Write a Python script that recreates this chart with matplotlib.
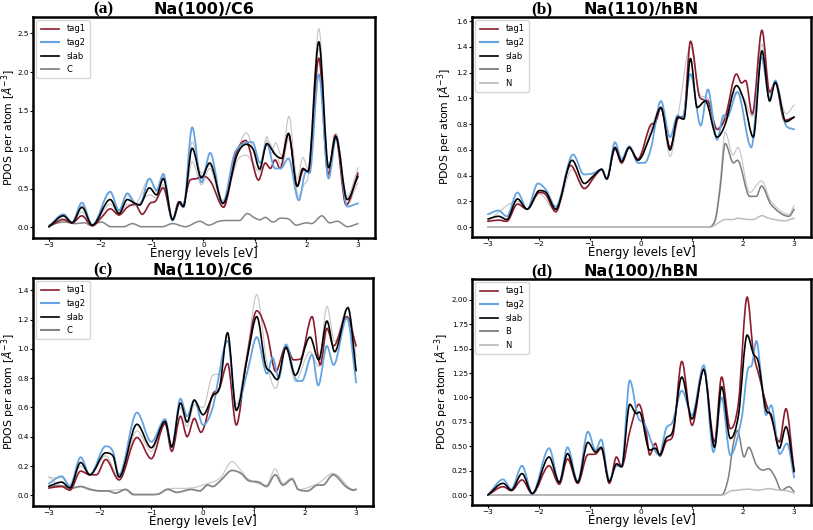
import numpy as np
import matplotlib
matplotlib.use("Agg")
import matplotlib.pyplot as plt
from matplotlib.path import Path
from matplotlib.patches import PathPatch

# ---- read-off turning points (energy [eV], PDOS) ----
# (a) Na(100)/C6
a_tag1 = [(-3.0, 0.01), (-2.72, 0.10), (-2.55, 0.06), (-2.36, 0.15), (-2.16, 0.02), (-1.98, 0.13),
          (-1.81, 0.24), (-1.64, 0.16), (-1.48, 0.26), (-1.33, 0.30), (-1.19, 0.17), (-1.04, 0.31),
          (-0.93, 0.34), (-0.78, 0.51), (-0.60, 0.10), (-0.48, 0.33), (-0.41, 0.27), (-0.26, 0.61),
          (-0.13, 0.63), (0.0, 0.66), (0.15, 0.58), (0.39, 0.26), (0.62, 0.93), (0.82, 1.12),
          (1.07, 0.61), (1.2, 0.83), (1.3, 0.76), (1.39, 0.87), (1.49, 0.76), (1.65, 1.21),
          (1.82, 0.53), (1.94, 0.74), (2.04, 0.72), (2.24, 2.18), (2.42, 0.68), (2.56, 1.19),
          (2.77, 0.29), (3.0, 0.70)]
a_tag2 = [(-3.0, 0.01), (-2.72, 0.17), (-2.55, 0.07), (-2.36, 0.32), (-2.16, 0.03), (-1.81, 0.46),
          (-1.64, 0.22), (-1.48, 0.44), (-1.33, 0.31), (-1.24, 0.29), (-1.05, 0.63), (-0.91, 0.48),
          (-0.78, 0.69), (-0.60, 0.09), (-0.46, 0.33), (-0.39, 0.26), (-0.22, 1.29), (-0.04, 0.58),
          (0.13, 0.96), (0.37, 0.31), (0.62, 0.98), (0.95, 1.10), (1.10, 0.83), (1.23, 1.07),
          (1.39, 0.76), (1.50, 0.76), (1.65, 0.89), (1.85, 0.35), (1.99, 0.72), (2.06, 0.70),
          (2.24, 1.97), (2.43, 0.63), (2.58, 1.17), (2.79, 0.27), (3.0, 0.31)]
a_slab = [(-3.0, 0.01), (-2.72, 0.15), (-2.55, 0.06), (-2.36, 0.26), (-2.16, 0.03), (-1.81, 0.36),
          (-1.64, 0.18), (-1.48, 0.36), (-1.33, 0.31), (-1.24, 0.29), (-1.05, 0.51), (-0.91, 0.42),
          (-0.78, 0.63), (-0.60, 0.10), (-0.46, 0.33), (-0.39, 0.27), (-0.22, 1.02), (-0.04, 0.64),
          (0.12, 0.83), (0.38, 0.31), (0.65, 0.93), (0.83, 1.07), (0.97, 1.0), (1.09, 0.75),
          (1.23, 1.08), (1.39, 0.94), (1.52, 0.89), (1.65, 1.21), (1.82, 0.53), (1.93, 0.76),
          (2.03, 0.72), (2.24, 2.39), (2.43, 0.77), (2.57, 1.17), (2.79, 0.36), (3.0, 0.66)]
a_c = [(-3.0, 0.03), (-2.7, 0.07), (-2.5, 0.05), (-2.3, 0.06), (-2.2, 0.03), (-1.98, 0.07),
       (-1.8, 0.01), (-1.55, 0.01), (-1.38, 0.05), (-1.2, 0.01), (-0.8, 0.01), (-0.6, 0.05),
       (-0.35, 0.01), (-0.07, 0.08), (0.1, 0.03), (0.3, 0.08), (0.5, 0.09), (0.7, 0.09),
       (0.85, 0.18), (1.0, 0.12), (1.1, 0.10), (1.2, 0.13), (1.35, 0.07), (1.5, 0.12),
       (1.65, 0.11), (1.8, 0.03), (2.0, 0.06), (2.1, 0.05), (2.3, 0.15), (2.45, 0.06),
       (2.6, 0.08), (2.8, 0.01), (3.0, 0.05)]
a_others = [
    [(-3.0, 0.03), (-2.72, 0.15), (-2.55, 0.07), (-2.36, 0.28), (-2.16, 0.03), (-1.81, 0.45),
     (-1.64, 0.21), (-1.48, 0.42), (-1.33, 0.30), (-1.05, 0.63), (-0.91, 0.46), (-0.78, 0.66),
     (-0.60, 0.10), (-0.46, 0.31), (-0.39, 0.27), (-0.22, 1.10), (-0.04, 0.70), (0.12, 0.80),
     (0.38, 0.35), (0.65, 0.95), (0.83, 1.22), (1.09, 0.78), (1.23, 1.17), (1.32, 0.95),
     (1.40, 1.09), (1.52, 0.92), (1.66, 1.43), (1.82, 0.62), (1.93, 0.90), (2.03, 0.75),
     (2.24, 2.56), (2.43, 0.80), (2.57, 1.21), (2.79, 0.40), (3.0, 0.77)],
    [(-3.0, 0.02), (-2.72, 0.12), (-2.55, 0.06), (-2.36, 0.20), (-2.16, 0.03), (-1.81, 0.30),
     (-1.64, 0.17), (-1.48, 0.30), (-1.33, 0.28), (-1.05, 0.42), (-0.91, 0.38), (-0.78, 0.55),
     (-0.60, 0.10), (-0.46, 0.30), (-0.39, 0.26), (-0.22, 0.85), (-0.04, 0.55), (0.12, 0.76),
     (0.38, 0.28), (0.65, 0.85), (0.83, 0.93), (1.09, 0.72), (1.23, 1.12), (1.40, 0.95),
     (1.52, 0.80), (1.66, 1.15), (1.85, 0.40), (1.95, 0.55), (2.03, 0.65), (2.24, 2.30),
     (2.43, 0.70), (2.57, 1.15), (2.79, 0.30), (3.0, 0.58)],
]

# (b) Na(110)/hBN
b_tag1 = [(-3.0, 0.046), (-2.79, 0.055), (-2.63, 0.046), (-2.42, 0.18), (-2.23, 0.14), (-1.99, 0.27),
          (-1.86, 0.25), (-1.67, 0.12), (-1.38, 0.48), (-1.11, 0.30), (-0.90, 0.40), (-0.77, 0.45),
          (-0.67, 0.375), (-0.51, 0.61), (-0.38, 0.50), (-0.23, 0.62), (-0.06, 0.53), (0.20, 0.80),
          (0.28, 0.81), (0.39, 0.93), (0.57, 0.62), (0.72, 0.84), (0.84, 0.87), (0.97, 1.445),
          (1.15, 1.01), (1.23, 0.99), (1.31, 0.98), (1.49, 0.76), (1.65, 0.85), (1.87, 1.19),
          (1.97, 1.12), (2.05, 1.14), (2.18, 0.88), (2.37, 1.53), (2.52, 1.05), (2.63, 1.125),
          (2.81, 0.83), (3.0, 0.855)]
b_tag2 = [(-3.0, 0.10), (-2.79, 0.13), (-2.63, 0.085), (-2.42, 0.27), (-2.23, 0.14), (-2.02, 0.34),
          (-1.86, 0.29), (-1.67, 0.16), (-1.33, 0.565), (-1.12, 0.41), (-0.93, 0.42), (-0.77, 0.45),
          (-0.67, 0.375), (-0.51, 0.66), (-0.38, 0.53), (-0.23, 0.63), (-0.06, 0.50), (0.07, 0.50),
          (0.20, 0.62), (0.39, 0.98), (0.57, 0.70), (0.72, 0.87), (0.81, 0.84), (0.97, 1.19),
          (1.17, 0.79), (1.31, 1.07), (1.49, 0.68), (1.62, 0.87), (1.68, 0.85), (1.89, 1.05),
          (2.16, 0.62), (2.36, 1.32), (2.52, 1.0), (2.63, 1.14), (2.84, 0.79), (3.0, 0.76)]
b_slab = [(-3.0, 0.064), (-2.79, 0.085), (-2.63, 0.06), (-2.42, 0.22), (-2.23, 0.14), (-1.99, 0.285),
          (-1.86, 0.27), (-1.67, 0.14), (-1.35, 0.52), (-1.11, 0.34), (-0.93, 0.40), (-0.77, 0.45),
          (-0.67, 0.375), (-0.51, 0.62), (-0.38, 0.51), (-0.23, 0.62), (-0.06, 0.52), (0.20, 0.73),
          (0.39, 0.93), (0.57, 0.60), (0.72, 0.855), (0.84, 0.84), (0.97, 1.31), (1.10, 0.93),
          (1.26, 0.98), (1.49, 0.70), (1.65, 0.80), (1.87, 1.10), (2.02, 0.98), (2.20, 0.70),
          (2.37, 1.37), (2.52, 0.98), (2.63, 1.125), (2.84, 0.82), (3.0, 0.855)]
b_b = [(-3.0, 0.0), (1.3, 0.0), (1.45, 0.05), (1.55, 0.3), (1.65, 0.65), (1.81, 0.50), (1.89, 0.52),
       (2.13, 0.24), (2.26, 0.24), (2.36, 0.32), (2.55, 0.175), (2.9, 0.085), (3.0, 0.14)]
b_n = [(-3.0, 0.0), (1.35, 0.0), (1.5, 0.03), (1.65, 0.06), (1.8, 0.06), (1.9, 0.07), (2.1, 0.06),
       (2.2, 0.06), (2.37, 0.09), (2.5, 0.07), (2.8, 0.05), (3.0, 0.07)]
b_others = [
    [(-3.0, 0.0), (1.3, 0.0), (1.45, 0.06), (1.55, 0.35), (1.65, 0.74), (1.8, 0.56), (1.9, 0.62),
     (2.13, 0.27), (2.36, 0.36), (2.55, 0.20), (2.9, 0.10), (3.0, 0.17)],
    [(-3.0, 0.05), (-2.42, 0.20), (-2.23, 0.14), (-1.99, 0.26), (-1.67, 0.13), (-1.35, 0.45),
     (-1.11, 0.31), (-0.77, 0.44), (-0.67, 0.37), (-0.51, 0.60), (-0.38, 0.49), (-0.23, 0.61),
     (-0.06, 0.53), (0.39, 0.92), (0.57, 0.55), (0.72, 0.85), (0.97, 1.40), (1.15, 1.03),
     (1.31, 1.0), (1.49, 0.77), (1.87, 1.05), (2.02, 1.0), (2.18, 0.86), (2.37, 1.42),
     (2.52, 1.03), (2.63, 1.13), (2.84, 0.88), (3.0, 0.95)],
]

# (c) Na(110)/C6
c_tag1 = [(-3.0, 0.05), (-2.75, 0.06), (-2.59, 0.035), (-2.38, 0.165), (-2.2, 0.14), (-2.07, 0.14),
          (-1.89, 0.245), (-1.63, 0.105), (-1.28, 0.395), (-1.0, 0.25), (-0.73, 0.49), (-0.60, 0.30),
          (-0.43, 0.54), (-0.30, 0.40), (-0.16, 0.525), (-0.03, 0.43), (0.2, 0.69), (0.33, 0.73),
          (0.49, 0.90), (0.66, 0.48), (0.85, 0.90), (1.06, 1.26), (1.26, 1.11), (1.43, 0.845),
          (1.63, 1.02), (1.78, 0.925), (1.91, 0.93), (2.14, 1.22), (2.3, 0.89), (2.43, 1.14),
          (2.56, 1.02), (2.82, 1.22), (3.0, 1.02)]
c_tag2 = [(-3.0, 0.08), (-2.75, 0.13), (-2.59, 0.064), (-2.38, 0.26), (-2.2, 0.14), (-1.89, 0.335),
          (-1.75, 0.30), (-1.63, 0.14), (-1.28, 0.565), (-1.0, 0.365), (-0.73, 0.52), (-0.60, 0.33),
          (-0.43, 0.66), (-0.30, 0.54), (-0.16, 0.65), (0.01, 0.48), (0.2, 0.60), (0.49, 1.055),
          (0.66, 0.59), (0.88, 0.85), (1.06, 1.08), (1.26, 0.83), (1.37, 0.94), (1.49, 0.80),
          (1.63, 1.03), (1.85, 0.78), (1.94, 0.78), (2.14, 0.96), (2.26, 0.75), (2.43, 1.02),
          (2.56, 0.89), (2.82, 1.21), (3.0, 0.77)]
c_slab = [(-3.0, 0.062), (-2.75, 0.09), (-2.59, 0.05), (-2.38, 0.224), (-2.2, 0.14), (-1.89, 0.29),
          (-1.75, 0.27), (-1.63, 0.125), (-1.28, 0.485), (-1.0, 0.325), (-0.73, 0.505), (-0.60, 0.33),
          (-0.43, 0.63), (-0.30, 0.50), (-0.16, 0.65), (0.01, 0.55), (0.2, 0.68), (0.33, 0.73),
          (0.49, 1.11), (0.66, 0.58), (0.88, 0.95), (1.06, 1.22), (1.23, 0.89), (1.33, 0.845),
          (1.46, 0.79), (1.63, 1.01), (1.81, 0.82), (2.1, 1.08), (2.27, 0.925), (2.43, 1.19),
          (2.58, 0.98), (2.84, 1.28), (3.0, 0.85)]
c_c = [(-3.0, 0.05), (-2.85, 0.065), (-2.7, 0.06), (-2.55, 0.05), (-2.38, 0.06), (-2.2, 0.04),
       (-2.0, 0.03), (-1.85, 0.03), (-1.7, 0.015), (-1.5, 0.04), (-1.35, 0.005), (-1.0, 0.005),
       (-0.85, 0.01), (-0.68, 0.04), (-0.5, 0.02), (-0.22, 0.04), (-0.05, 0.03), (0.1, 0.07),
       (0.2, 0.06), (0.35, 0.10), (0.58, 0.17), (0.75, 0.15), (0.9, 0.10), (1.1, 0.09),
       (1.25, 0.06), (1.42, 0.14), (1.57, 0.07), (1.75, 0.11), (1.87, 0.04), (2.05, 0.03),
       (2.25, 0.07), (2.35, 0.07), (2.55, 0.14), (2.8, 0.06), (2.95, 0.035), (3.0, 0.04)]
c_others = [
    [(-3.0, 0.12), (-2.75, 0.12), (-2.59, 0.06), (-2.38, 0.20), (-2.2, 0.14), (-1.89, 0.27),
     (-1.63, 0.12), (-1.28, 0.44), (-1.0, 0.30), (-0.73, 0.50), (-0.60, 0.33), (-0.43, 0.60),
     (-0.30, 0.47), (-0.16, 0.62), (0.01, 0.60), (0.2, 0.82), (0.33, 0.83), (0.49, 1.08),
     (0.66, 0.62), (0.88, 1.0), (1.06, 1.37), (1.26, 0.90), (1.43, 0.73), (1.63, 1.0),
     (1.81, 0.78), (2.1, 0.98), (2.27, 0.88), (2.43, 1.29), (2.58, 1.05), (2.84, 1.29),
     (3.0, 0.95)],
    [(-3.0, 0.13), (-2.85, 0.08), (-2.6, 0.05), (-2.38, 0.06), (-2.0, 0.03), (-1.5, 0.04),
     (-1.3, 0.005), (-0.9, 0.005), (-0.68, 0.045), (-0.22, 0.05), (0.1, 0.08), (0.35, 0.12),
     (0.58, 0.23), (0.75, 0.17), (0.9, 0.11), (1.25, 0.07), (1.42, 0.18), (1.57, 0.08),
     (1.75, 0.12), (1.87, 0.04), (2.25, 0.08), (2.55, 0.15), (2.95, 0.04), (3.0, 0.045)],
]

# (d) Na(100)/hBN
d_tag1 = [(-3.0, 0.0), (-2.70, 0.085), (-2.54, 0.045), (-2.33, 0.155), (-2.13, 0.015), (-1.80, 0.30),
          (-1.60, 0.11), (-1.44, 0.37), (-1.24, 0.12), (-1.04, 0.415), (-0.89, 0.42), (-0.78, 0.48),
          (-0.62, 0.12), (-0.48, 0.39), (-0.38, 0.29), (-0.22, 0.65), (-0.04, 0.93), (0.1, 0.65),
          (0.17, 0.41), (0.28, 0.53), (0.37, 0.40), (0.49, 0.545), (0.62, 0.60), (0.80, 1.37),
          (1.0, 0.715), (1.23, 1.295), (1.44, 0.545), (1.58, 1.21), (1.75, 0.68), (1.91, 0.95),
          (2.08, 2.03), (2.2, 1.47), (2.33, 1.19), (2.45, 0.94), (2.55, 0.80), (2.71, 0.545),
          (2.84, 0.885), (3.0, 0.24)]
d_tag2 = [(-3.0, 0.0), (-2.70, 0.16), (-2.54, 0.06), (-2.33, 0.30), (-2.13, 0.017), (-1.80, 0.48),
          (-1.60, 0.13), (-1.44, 0.49), (-1.24, 0.14), (-1.04, 0.65), (-0.89, 0.46), (-0.78, 0.57),
          (-0.62, 0.15), (-0.48, 0.30), (-0.38, 0.29), (-0.22, 1.175), (-0.06, 0.80), (0.07, 0.73),
          (0.26, 0.47), (0.36, 0.41), (0.49, 0.68), (0.62, 0.75), (0.80, 1.07), (1.0, 0.82),
          (1.23, 1.33), (1.42, 0.44), (1.58, 1.0), (1.75, 0.41), (1.97, 0.78), (2.1, 1.30),
          (2.17, 1.33), (2.26, 1.58), (2.36, 1.19), (2.45, 0.82), (2.55, 0.92), (2.72, 0.42),
          (2.86, 0.53), (3.0, 0.18)]
d_slab = [(-3.0, 0.0), (-2.70, 0.12), (-2.54, 0.05), (-2.33, 0.22), (-2.13, 0.015), (-1.80, 0.39),
          (-1.60, 0.13), (-1.44, 0.425), (-1.24, 0.13), (-1.04, 0.54), (-0.89, 0.44), (-0.78, 0.49),
          (-0.62, 0.14), (-0.48, 0.32), (-0.38, 0.29), (-0.22, 0.93), (-0.09, 0.835), (-0.03, 0.85),
          (0.17, 0.46), (0.28, 0.48), (0.37, 0.41), (0.49, 0.58), (0.62, 0.65), (0.80, 1.21),
          (1.0, 0.78), (1.23, 1.285), (1.44, 0.49), (1.58, 1.11), (1.75, 0.58), (1.91, 0.82),
          (2.08, 1.64), (2.2, 1.45), (2.3, 1.36), (2.45, 0.87), (2.55, 0.82), (2.71, 0.48),
          (2.84, 0.70), (3.0, 0.24)]
d_b = [(-3.0, 0.0), (1.55, 0.0), (1.62, 0.02), (1.72, 0.2), (1.8, 0.5), (1.89, 0.66), (2.02, 0.39),
       (2.11, 0.49), (2.26, 0.31), (2.39, 0.255), (2.5, 0.27), (2.62, 0.19), (2.75, 0.05),
       (2.9, 0.085), (3.0, 0.035)]
d_n = [(-3.0, 0.0), (1.6, 0.0), (1.75, 0.04), (1.9, 0.05), (2.1, 0.06), (2.3, 0.05), (2.5, 0.065),
       (2.7, 0.05), (2.85, 0.045), (3.0, 0.02)]
d_others = []

titles = ["Na(100)/C6", "Na(110)/hBN", "Na(110)/C6", "Na(100)/hBN"]
letters = ["(a)", "(b)", "(c)", "(d)"]
ylims = [(-0.135, 2.71), (-0.075, 1.633), (-0.073, 1.484), (-0.102, 2.215)]
yticks = [np.arange(0, 2.51, 0.5), np.arange(0, 1.61, 0.2), np.arange(0, 1.41, 0.2), np.arange(0, 2.01, 0.25)]
ytick_fmt = ["%.1f", "%.1f", "%.1f", "%.2f"]

RED = "#8c1c2e"
BLUE = "#65a4e3"


def smooth_line(ax, pts, **kw):
    # draw the read points as a smooth (cubic Hermite style) curve
    e = np.array([p[0] for p in pts])
    v = np.array([p[1] for p in pts])
    n = len(e)
    d = np.diff(v) / np.diff(e)
    m = np.zeros(n)
    for i in range(1, n - 1):
        if d[i - 1] * d[i] > 0:
            s = (v[i + 1] - v[i - 1]) / (e[i + 1] - e[i - 1])
            m[i] = np.sign(s) * min(abs(s), 3 * abs(d[i - 1]), 3 * abs(d[i]))
    m[0] = d[0]
    m[-1] = d[-1]
    verts = [(e[0], v[0])]
    codes = [Path.MOVETO]
    for i in range(n - 1):
        h = e[i + 1] - e[i]
        verts += [(e[i] + h / 3, v[i] + m[i] * h / 3),
                  (e[i + 1] - h / 3, v[i + 1] - m[i + 1] * h / 3),
                  (e[i + 1], v[i + 1])]
        codes += [Path.CURVE4] * 3
    ax.add_patch(PathPatch(Path(verts, codes), fill=False, joinstyle="round", capstyle="round", **kw))


panels = [
    (a_tag1, a_tag2, a_slab, [("C", a_c, "#858585", 1.1)], a_others),
    (b_tag1, b_tag2, b_slab, [("B", b_b, "#7d7d7d", 1.1), ("N", b_n, "#bdbdbd", 1.1)], b_others),
    (c_tag1, c_tag2, c_slab, [("C", c_c, "#858585", 1.3)], c_others),
    (d_tag1, d_tag2, d_slab, [("B", d_b, "#7d7d7d", 1.1), ("N", d_n, "#bdbdbd", 1.1)], d_others),
]

positions = [
    [0.0406, 0.551, 0.4206, 0.417],
    [0.5806, 0.553, 0.4169, 0.415],
    [0.0406, 0.0453, 0.4182, 0.4302],
    [0.5806, 0.0472, 0.4169, 0.4264],
]
ylabel_gap = [15.0, 18.5, 15.0, 21.0]  # px from the left spine

fig = plt.figure(figsize=(8.13, 5.30), dpi=100)

for k, (tag1, tag2, slab, species, others) in enumerate(panels):
    ax = fig.add_axes(positions[k])
    for o in others:
        smooth_line(ax, o, color="#c4c4c4", lw=0.8, zorder=1)
    for name, pts, col, lw in species:
        smooth_line(ax, pts, color=col, lw=lw, zorder=2)
    smooth_line(ax, tag1, color=RED, lw=1.2, zorder=3)
    smooth_line(ax, tag2, color=BLUE, lw=1.3, zorder=3)
    smooth_line(ax, slab, color="black", lw=1.2, zorder=4)

    # legend proxies
    ax.plot([], [], color=RED, lw=1.2, label="tag1")
    ax.plot([], [], color=BLUE, lw=1.5, label="tag2")
    ax.plot([], [], color="black", lw=1.2, label="slab")
    for name, pts, col, lw in species:
        ax.plot([], [], color=col, lw=lw + 0.2, label=name)
    ax.legend(loc="upper left", fontsize=6, handlelength=2.2, borderpad=0.5,
              labelspacing=0.55, borderaxespad=0.4, handletextpad=0.9)

    ax.set_xlim(-3.31, 3.33)
    ax.set_ylim(*ylims[k])
    ax.set_xticks(np.arange(-3, 4, 1))
    ax.set_yticks(yticks[k])
    ax.set_yticklabels([ytick_fmt[k] % t for t in yticks[k]])
    ax.tick_params(labelsize=5.2, length=2.2, width=0.8, pad=0.8)
    for sp in ax.spines.values():
        sp.set_linewidth(1.8)

    ax.set_xlabel("Energy levels [eV]", fontsize=8.5, labelpad=-0.5)
    ax.set_ylabel(r"PDOS per atom [$\AA^{-3}$]", fontsize=7.8)
    ax.yaxis.set_label_coords(-ylabel_gap[k] / (positions[k][2] * 813), 0.5)
    ax.set_title(titles[k], fontsize=11.5, fontweight="bold", pad=0.5)
    ax.text(0.205, 1.0, letters[k], transform=ax.transAxes, ha="center", va="bottom",
            fontsize=12.5, fontweight="bold", family="Liberation Serif")

fig.savefig("out.png", dpi=100)
